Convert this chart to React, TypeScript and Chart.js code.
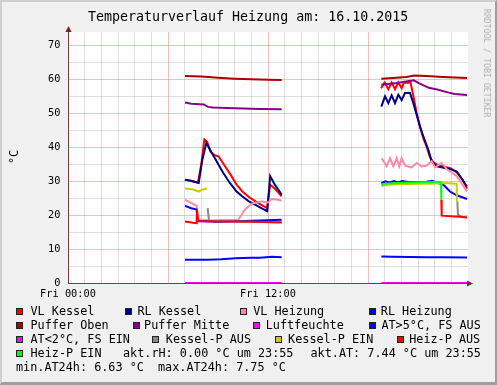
import React, { useEffect, useRef } from 'react';
import { Chart, registerables } from 'chart.js';

Chart.register(...registerables);

type Pt = [number, number];

// ---------- data (hour of day, °C) ----------
const titleText = 'Temperaturverlauf Heizung am: 16.10.2015';
const xTickLabels: Record<number, string> = { 0: 'Fri 00:00', 12: 'Fri 12:00' };
const yLabeledEvery = 10;

const vlKessel1: Pt[] = [[7.02,30.4],[7.4,30.1],[7.8,29.6],[8.0,35],[8.18,42.2],[8.35,41.5],[8.55,38.6],[8.8,37.6],[9.04,37.2],[9.4,34.5],[9.8,31.5],[10.1,29],[10.45,27],[10.85,25.3],[11.25,24],[11.6,23],[11.95,22],[12.13,28.9],[12.4,27.8],[12.82,25.5]];
const vlKessel2: Pt[] = [[18.78,57.3],[19.0,59.0],[19.22,57.0],[19.42,59.0],[19.62,57.0],[19.82,59.0],[20.02,57.3],[20.15,58.9],[20.55,59.0],[20.7,55.5],[20.92,50.0],[21.12,46.0],[21.32,42.5],[21.52,40],[21.72,37],[21.92,35.5],[22.15,34.8],[22.55,34.2],[22.95,33.8],[23.33,32.5],[23.65,30.5],[23.94,27.8]];

const rlKessel1: Pt[] = [[7.02,30.4],[7.4,30.0],[7.84,29.4],[8.05,36],[8.3,41.2],[8.6,38.5],[8.94,35.6],[9.3,32.5],[9.7,29.5],[10.1,27],[10.45,25.5],[10.85,24],[11.25,23],[11.6,22],[11.95,21.1],[12.13,31.4],[12.4,29],[12.82,26]];
const rlKessel2: Pt[] = [[18.8,51.9],[19.02,54.9],[19.22,52.9],[19.42,55.2],[19.62,52.9],[19.82,55.4],[20.02,53.8],[20.22,55.9],[20.52,55.9],[20.72,52.9],[21.12,46.0],[21.32,43.1],[21.62,39.2],[21.82,35.8],[22.13,34.3],[22.55,33.9],[22.93,33.5],[23.33,32.8],[23.65,30.5],[23.94,28.4]];

const vlHeizung1: Pt[] = [[7.02,24.5],[7.4,23.5],[7.72,22.7],[7.78,18.5],[8.5,18.4],[9.5,18.5],[10.22,18.6],[10.62,21.6],[11.02,23.3],[11.62,24.0],[12.0,23.7],[12.22,24.7],[12.6,24.5],[12.82,24.2]];
const vlHeizung2: Pt[] = [[18.82,36.7],[19.12,34.3],[19.32,36.7],[19.52,34.3],[19.72,36.7],[19.87,34.3],[20.02,36.7],[20.22,34.5],[20.6,34.0],[20.92,35.3],[21.22,34.3],[21.5,34.5],[21.82,35.8],[22.02,34.0],[22.42,35.3],[22.72,33.5],[23.32,31.4],[23.94,26.9]];

const rlHeizung1: Pt[] = [[7.02,22.7],[7.4,22.0],[7.72,21.6],[7.78,18.2],[9,18.0],[10.5,18.2],[11.5,18.4],[12.82,18.6]];
const rlHeizung2: Pt[] = [[18.8,29.4],[19.05,29.9],[19.3,29.6],[19.55,30.0],[19.8,29.6],[20.05,30.0],[20.4,29.7],[21.0,29.7],[21.5,29.8],[21.85,30.1],[22.1,29.6],[22.52,28.9],[22.92,26.9],[23.32,25.8],[23.94,24.7]];

const pufferOben1: Pt[] = [[7.02,60.9],[8,60.7],[9,60.4],[10,60.1],[11,59.9],[12,59.8],[12.82,59.7]];
const pufferOben2: Pt[] = [[18.8,60.1],[19.5,60.3],[20.3,60.6],[20.8,61.0],[21.5,60.9],[22.5,60.6],[23.94,60.3]];

const pufferMitte1: Pt[] = [[7.02,53.1],[7.4,52.7],[7.9,52.6],[8.15,52.5],[8.4,51.8],[8.7,51.6],[10,51.4],[11.5,51.2],[12.82,51.1]];
const pufferMitte2: Pt[] = [[18.8,58.3],[19.75,58.8],[20.45,59.4],[20.75,59.6],[21.05,58.8],[21.65,57.4],[22.15,56.9],[22.85,56.0],[23.2,55.6],[23.94,55.3]];

const luftfeuchte1: Pt[] = [[7.02,0],[12.82,0]];
const luftfeuchte2: Pt[] = [[18.8,0],[23.94,0]];

const atHigh1: Pt[] = [[7.02,6.85],[8.4,6.85],[9.2,7.0],[10.05,7.3],[11,7.4],[11.5,7.45],[12.25,7.7],[12.82,7.6]];
const atHigh2: Pt[] = [[18.8,7.8],[19.5,7.75],[20.5,7.65],[21.5,7.6],[22.5,7.55],[23.94,7.5]];
const atLow1: Pt[] = [];
const atLow2: Pt[] = [];

const kesselPAus1: Pt[] = [[8.38,22.0],[8.46,18.2],[12.82,17.9]];
const kesselPAus2: Pt[] = [[23.36,24.0],[23.4,20.1],[23.6,19.5],[23.94,19.3]];
const kesselPEin1: Pt[] = [[7.02,27.8],[7.5,27.5],[7.84,26.9],[8.1,27.6],[8.34,27.8]];
const kesselPEin2: Pt[] = [[18.8,28.5],[19.3,29.0],[20.2,29.1],[21.2,29.2],[22.2,29.3],[22.6,29.4],[23.32,29.2],[23.34,24.0]];
const heizPAus1: Pt[] = [[7.02,18.1],[7.5,17.7],[7.72,17.6],[7.74,21.6],[7.8,18.2],[9,18.1],[11,18.0],[12.82,17.8]];
const heizPAus2: Pt[] = [[22.4,24.5],[22.42,19.8],[23,19.6],[23.5,19.5],[23.94,19.3]];
const heizPEin1: Pt[] = [];
const heizPEin2: Pt[] = [[18.8,29.0],[19.2,29.3],[20,29.5],[21,29.6],[22,29.7],[22.38,29.7],[22.4,24.5]];

const gapHour = 15;

const aktRH = '0.00';
const aktAT = '7.44';
const aktTime = '23:55';
const minAT24 = '6.63';
const maxAT24 = '7.75';

const seriesLabels = ['VL Kessel','RL Kessel','VL Heizung','RL Heizung','Puffer Oben','Puffer Mitte','Luftfeuchte','AT>5°C, FS AUS','AT<2°C, FS EIN','Kessel-P AUS','Kessel-P EIN','Heiz-P AUS','Heiz-P EIN'];
const seriesData: [Pt[], Pt[]][] = [
  [vlKessel1, vlKessel2], [rlKessel1, rlKessel2], [vlHeizung1, vlHeizung2], [rlHeizung1, rlHeizung2],
  [pufferOben1, pufferOben2], [pufferMitte1, pufferMitte2], [luftfeuchte1, luftfeuchte2],
  [atHigh1, atHigh2], [atLow1, atLow2], [kesselPAus1, kesselPAus2], [kesselPEin1, kesselPEin2],
  [heizPAus1, heizPAus2], [heizPEin1, heizPEin2],
];

// ---------- styles ----------
const seriesColors = ['#ff0000','#000080','#ff88aa','#0000ff','#aa0000','#880088','#ff00ff','#0000ff','#ff00ff','#888888','#cccc00','#ff0000','#00ff00'];
const FONT = '"DejaVu Sans Mono", monospace';
const legendFont = 11.8;
// [boxLeft, textLeft, row]
const legendPos: [number, number, number][] = [
  [16, 30.5, 0], [125, 137.4, 0], [240, 253.2, 0], [369, 380.8, 0],
  [16, 30.5, 1], [132.7, 144.1, 1], [253.3, 265.7, 1], [369, 381.4, 1],
  [16, 30.5, 2], [151.7, 165.8, 2], [275, 288.1, 2], [396.7, 409.2, 2],
  [16, 30.5, 3],
];
const rowBaselines = [316, 330, 344, 358, 372];

const PLOT_LEFT = 68, PLOT_RIGHT = 468, PLOT_TOP = 32, PLOT_BOTTOM = 283;
const PX_PER_DEG = 3.4;
const Y_MAX = (PLOT_BOTTOM - PLOT_TOP) / PX_PER_DEG;
const AXIS_COLOR = '#7a3c3c';
const ARROW_COLOR = '#7f1f1f';
const MINOR_GRID = 'rgba(150,150,150,0.3)';
const MAJOR_GRID = 'rgba(222,95,95,0.4)';

function toSeries(a: Pt[], b: Pt[]) {
  const out: { x: number; y: number | null }[] = a.map(([x, y]) => ({ x, y }));
  out.push({ x: gapHour, y: null });
  b.forEach(([x, y]) => out.push({ x, y }));
  return out;
}

const bgPlugin = {
  id: 'plotBg',
  beforeDraw(chart: any) {
    const { ctx, chartArea } = chart;
    ctx.save();
    ctx.fillStyle = '#ffffff';
    ctx.fillRect(chartArea.left, chartArea.top, chartArea.right - chartArea.left, chartArea.bottom - chartArea.top);
    ctx.restore();
  },
};

const arrowPlugin = {
  id: 'arrows',
  afterDraw(chart: any) {
    const { ctx, chartArea } = chart;
    const l = Math.round(chartArea.left) + 0.5;
    const b = Math.round(chartArea.bottom) + 0.5;
    ctx.save();
    ctx.strokeStyle = AXIS_COLOR;
    ctx.lineWidth = 1;
    ctx.beginPath();
    ctx.moveTo(l, chartArea.top);
    ctx.lineTo(l, chartArea.top - 3);
    ctx.moveTo(chartArea.right, b);
    ctx.lineTo(chartArea.right + 3, b);
    ctx.stroke();
    ctx.fillStyle = ARROW_COLOR;
    ctx.beginPath();
    ctx.moveTo(l, chartArea.top - 6);
    ctx.lineTo(l - 3, chartArea.top);
    ctx.lineTo(l + 3, chartArea.top);
    ctx.closePath();
    ctx.fill();
    ctx.beginPath();
    ctx.moveTo(chartArea.right + 5, b);
    ctx.lineTo(chartArea.right - 1, b - 3);
    ctx.lineTo(chartArea.right - 1, b + 3);
    ctx.closePath();
    ctx.fill();
    ctx.restore();
  },
};

function Text({ left, baseline, size, children, color = '#000' }: any) {
  return (
    <span style={{ position: 'absolute', left, top: baseline - 0.928 * size, fontSize: size, lineHeight: `${1.164 * size}px`, whiteSpace: 'pre', color, fontFamily: FONT }}>{children}</span>
  );
}

export default function App() {
  const ref = useRef<HTMLCanvasElement | null>(null);

  useEffect(() => {
    const canvas = ref.current;
    if (!canvas) return;
    const datasets = seriesLabels.map((label, i) => ({
      label,
      data: toSeries(seriesData[i][0], seriesData[i][1]),
      borderColor: seriesColors[i],
      backgroundColor: seriesColors[i],
      borderWidth: 2,
      pointRadius: 0,
      tension: 0,
      spanGaps: false,
      fill: false,
      order: 100 - i,
    }));
    const X_AXIS_H = 30;
    const chart = new Chart(canvas, {
      type: 'line',
      data: { datasets },
      options: {
        animation: false,
        responsive: false,
        maintainAspectRatio: false,
        devicePixelRatio: 1,
        events: [],
        layout: { padding: { left: 0, top: PLOT_TOP, right: 497 - PLOT_RIGHT, bottom: 385 - PLOT_BOTTOM - X_AXIS_H } },
        plugins: { legend: { display: false }, tooltip: { enabled: false }, title: { display: false } },
        scales: {
          x: {
            type: 'linear',
            min: 0,
            max: 24,
            afterFit: (s: any) => { s.height = X_AXIS_H; },
            ticks: {
              stepSize: 1,
              autoSkip: false,
              maxRotation: 0,
              includeBounds: false,
              padding: 5,
              color: '#000',
              font: { family: FONT, size: 10.3 },
              callback: (v: any) => xTickLabels[v as number] ?? '',
            },
            grid: {
              drawTicks: false,
              lineWidth: 1,
              color: (c: any) => {
                const v = c.tick?.value;
                if (v === 24) return 'rgba(0,0,0,0)';
                return v % 6 === 0 ? MAJOR_GRID : MINOR_GRID;
              },
            },
            border: { color: AXIS_COLOR, width: 1 },
          },
          y: {
            min: 0,
            max: Y_MAX,
            afterFit: (s: any) => { s.width = PLOT_LEFT; },
            ticks: {
              stepSize: 5,
              includeBounds: false,
              padding: 7.5,
              color: '#000',
              font: { family: FONT, size: 10.3 },
              callback: (v: any) => ((v as number) % yLabeledEvery === 0 ? String(v) : ''),
            },
            grid: {
              drawTicks: false,
              lineWidth: 1,
              color: (c: any) => ((c.tick?.value ?? 1) % 10 === 0 ? MAJOR_GRID : MINOR_GRID),
            },
            border: { color: AXIS_COLOR, width: 1 },
          },
        },
      } as any,
      plugins: [bgPlugin, arrowPlugin],
    });
    return () => chart.destroy();
  }, []);

  return (
    <div style={{ position: 'absolute', left: 0, top: 0, width: 497, height: 385, background: '#f0f0f0', overflow: 'hidden', fontFamily: FONT }}>
      <canvas ref={ref} width={497} height={385} style={{ position: 'absolute', left: 0, top: 0, width: 497, height: 385 }} />
      <Text left={88} baseline={21} size={13.3}>{titleText}</Text>
      <span style={{ position: 'absolute', left: 13.7, top: 157, transform: 'translate(-50%,-50%) rotate(-90deg)', fontSize: 11.8, lineHeight: '14px', fontFamily: FONT, whiteSpace: 'pre', color: '#000' }}>°C</span>
      <span style={{ position: 'absolute', left: 486.7, top: 62.5, transform: 'translate(-50%,-50%) rotate(90deg)', fontSize: 8.2, lineHeight: '10px', fontFamily: FONT, whiteSpace: 'pre', color: '#b0b0b0' }}>RRDTOOL / TOBI OETIKER</span>
      {seriesLabels.map((label, i) => {
        const [bx, tx, row] = legendPos[i];
        const base = rowBaselines[row];
        return (
          <React.Fragment key={label}>
            <div style={{ position: 'absolute', left: bx, top: base - 7.8, width: 7, height: 7, boxSizing: 'border-box', border: '1px solid #222', background: seriesColors[i] }} />
            <Text left={tx} baseline={base} size={legendFont}>{label}</Text>
          </React.Fragment>
        );
      })}
      <Text left={123} baseline={rowBaselines[3]} size={legendFont}>{`akt.rH: ${aktRH} °C um ${aktTime}`}</Text>
      <Text left={310.5} baseline={rowBaselines[3]} size={legendFont}>{`akt.AT: ${aktAT} °C um ${aktTime}`}</Text>
      <Text left={16} baseline={rowBaselines[4]} size={legendFont}>{`min.AT24h: ${minAT24} °C`}</Text>
      <Text left={158} baseline={rowBaselines[4]} size={legendFont}>{`max.AT24h: ${maxAT24} °C`}</Text>
      <div style={{ position: 'absolute', left: 0, top: 0, width: 497, height: 385, boxSizing: 'border-box', borderTop: '2px solid #cfcfcf', borderLeft: '2px solid #cfcfcf', borderRight: '2px solid #9e9e9e', borderBottom: '3px solid #9e9e9e', pointerEvents: 'none' }} />
    </div>
  );
}
